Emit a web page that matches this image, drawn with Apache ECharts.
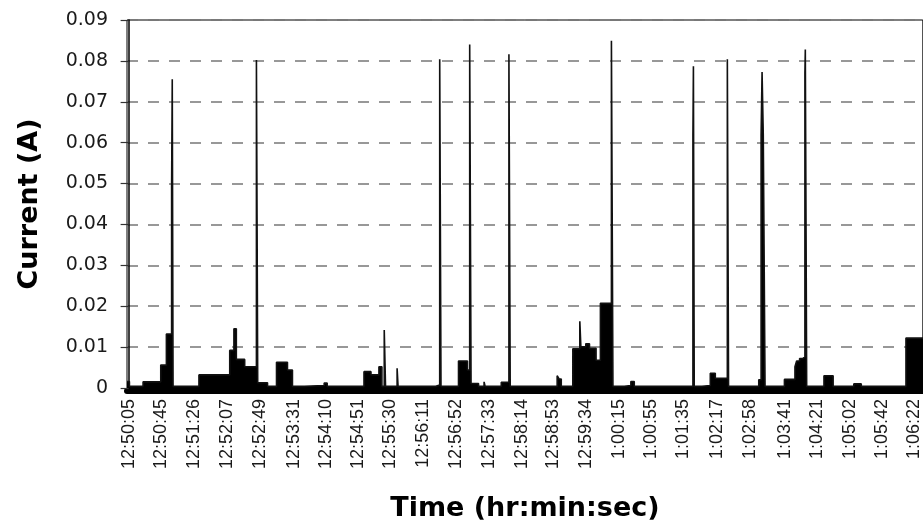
<!DOCTYPE html>
<html>
<head>
<meta charset="utf-8">
<script src="https://cdn.jsdelivr.net/npm/echarts@6/dist/echarts.min.js"></script>
<style>
  html, body { margin: 0; padding: 0; background: #fff; }
  #chart { width: 923px; height: 530px; }
</style>
</head>
<body>
<div id="chart"></div>
<script>
// Current draw log, stepped samples. Times are seconds elapsed since 12:50:05.
const tSec = [
  -2, 1, 18, 40, 47, 53.5, 54.3, 55.3, 87.5, 125.8,
  131, 134, 144.4, 159, 160.6, 172.8, 184, 197.6, 203.8, 218.6,
  243.3, 247, 292.8, 301.5, 311.4, 315.1, 318, 319.6, 334, 335.2,
  382, 387, 388.6, 410.4, 421.5, 424.3, 426, 435.3, 442.2, 443.5,
  463.6, 473.1, 474.7, 533.1, 535.5, 538.2, 552.6, 561.3, 562.6, 568.7,
  573.3, 581.5, 586.9, 600.6, 602.5, 616.6, 624.8, 629, 702, 702.6,
  703.6, 713.3, 723.6, 729.8, 744.8, 746.3, 783.9, 786.8, 788, 789.5,
  791.7, 815.8, 828.9, 831, 834.7, 838.4, 841.3, 841.8, 843.5, 865,
  876.4, 902.1, 911.4, 967, 990
];
const currentA = [
  0.0016, 0.0004, 0.0015, 0.0056, 0.0132, 0.049, 0.0755, 0.0004, 0.0032, 0.0092,
  0.0145, 0.007, 0.0052, 0.0802, 0.0013, 0.0004, 0.0063, 0.0044, 0.0004, 0.0006,
  0.0012, 0.0004, 0.004, 0.0032, 0.0052, 0.0004, 0.0142, 0.0004, 0.0048, 0.0004,
  0.0007, 0.0804, 0.0004, 0.0066, 0.0044, 0.084, 0.0011, 0.0004, 0.0015, 0.0004,
  0.0014, 0.0816, 0.0004, 0.003, 0.0022, 0.0004, 0.0096, 0.0163, 0.0101, 0.0108,
  0.0097, 0.0068, 0.0207, 0.0849, 0.0004, 0.0006, 0.0016, 0.0004, 0.062, 0.0787,
  0.0004, 0.0006, 0.0036, 0.0024, 0.0804, 0.0004, 0.002, 0.0619, 0.0773, 0.0619,
  0.0004, 0.0021, 0.0052, 0.0066, 0.0072, 0.0076, 0.077, 0.0828, 0.0004, 0.003,
  0.0004, 0.001, 0.0004, 0.0122, 0.0122
];

// Clock labels along the time axis
const timeLabels = [
  '12:50:05', '12:50:45', '12:51:26', '12:52:07', '12:52:49', '12:53:31',
  '12:54:10', '12:54:51', '12:55:30', '12:56:11', '12:56:52', '12:57:33',
  '12:58:14', '12:58:53', '12:59:34', '1:00:15', '1:00:55', '1:01:35',
  '1:02:17', '1:02:58', '1:03:41', '1:04:21', '1:05:02', '1:05:42', '1:06:22'
];
const yTicks = [0, 0.01, 0.02, 0.03, 0.04, 0.05, 0.06, 0.07, 0.08, 0.09];

// 12-hour clock string -> seconds after the first label
function clockToSec(str) {
  const p = str.split(':').map(Number);
  return (p[0] % 12) * 3600 + p[1] * 60 + p[2];
}
const t0 = clockToSec(timeLabels[0]);
const labelSec = timeLabels.map(s => clockToSec(s) - t0);

const seriesData = tSec.map((t, i) => [t, currentA[i]]);

const chart = echarts.init(document.getElementById('chart'), null, { renderer: 'canvas' });
chart.setOption({
  animation: false,
  backgroundColor: '#fff',
  grid: {
    left: 127, top: 20, right: -4, bottom: 142,
    containLabel: false,
    show: true, borderColor: '#000', borderWidth: 1, backgroundColor: 'transparent'
  },
  xAxis: {
    type: 'value',
    min: -2, max: 988,
    offset: 3,
    name: 'Time (hr:min:sec)',
    nameLocation: 'middle',
    nameGap: 104,
    nameTextStyle: { fontFamily: 'DejaVu Sans', fontWeight: 'bold', fontSize: 27, color: '#000' },
    axisLine: { show: true, onZero: false, lineStyle: { color: '#000', width: 6 } },
    axisTick: { show: false },
    splitLine: { show: false },
    axisLabel: {
      customValues: labelSec,
      rotate: 90,
      margin: 8,
      fontFamily: 'Liberation Sans',
      fontSize: 18,
      color: '#1a1a1a',
      formatter: v => {
        const i = labelSec.indexOf(v);
        return i >= 0 ? timeLabels[i] : '';
      }
    }
  },
  yAxis: {
    type: 'value',
    min: 0, max: 0.09, interval: 0.01,
    name: 'Current (A)',
    nameLocation: 'middle',
    nameGap: 84,
    nameTextStyle: { fontFamily: 'DejaVu Sans', fontWeight: 'bold', fontSize: 27, color: '#000' },
    axisLine: { show: true, lineStyle: { color: '#000', width: 1.5 } },
    axisTick: { show: true, inside: false, length: 8, lineStyle: { color: '#333', width: 1.2 } },
    splitLine: { show: true, lineStyle: { color: '#777', width: 1.5, type: [11, 10] } },
    axisLabel: {
      margin: 19,
      fontFamily: 'DejaVu Sans',
      fontSize: 19,
      color: '#1a1a1a',
      formatter: v => {
        const k = yTicks.findIndex(t => Math.abs(t - v) < 1e-9);
        if (k < 0) return '';
        return k === 0 ? '0' : yTicks[k].toFixed(2);
      }
    }
  },
  series: [{
    type: 'line',
    step: 'end',
    symbol: 'none',
    data: seriesData,
    lineStyle: { color: '#111', width: 1.6 },
    areaStyle: { color: '#000', opacity: 1 },
    z: 3
  }]
});
</script>
</body>
</html>
